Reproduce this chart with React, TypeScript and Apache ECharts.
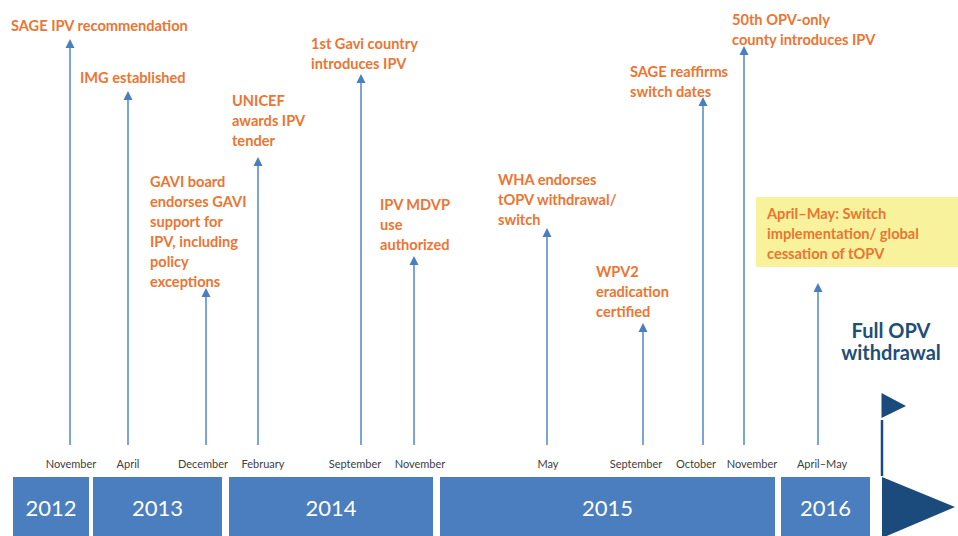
import React, { useEffect, useRef } from "react";
import * as echarts from "echarts";

// ---- Data ----
const years = ["2012", "2013", "2014", "2015", "2016"];
const yearStart = [13, 93, 229, 440, 781];
const yearEnd = [89, 222, 433, 775, 870];

const eventMonths = [
  "November", "April", "December", "February", "September", "November",
  "May", "September", "October", "November", "April–May",
];
const eventPos = [70, 128, 206, 258, 361, 414, 547, 643, 703, 744, 818];
const arrowTip = [39, 91, 288, 157, 74, 256, 228, 323, 97, 46, 283];
const eventLabels = [
  "SAGE IPV recommendation",
  "IMG established",
  "GAVI board\nendorses GAVI\nsupport for\nIPV, including\npolicy\nexceptions",
  "UNICEF\nawards IPV\ntender",
  "1st Gavi country\nintroduces IPV",
  "IPV MDVP\nuse\nauthorized",
  "WHA endorses\ntOPV withdrawal/\nswitch",
  "WPV2\neradication\ncertified",
  "SAGE reaffirms\nswitch dates",
  "50th OPV-only\ncounty introduces IPV",
  "April–May: Switch\nimplementation/ global\ncessation of tOPV",
];
const eventHighlight = [false, false, false, false, false, false, false, false, false, false, true];
const milestoneLabel = "Full OPV\nwithdrawal";

// ---- Layout (not data) ----
const labelX = [11, 80, 150, 232, 311, 380, 498, 596, 630, 732, 767];
const labelY = [25, 77, 181, 100, 43, 204, 179, 271, 71, 19, 213];
const monthLabelOffset = [1, 0, -3, 5, -6, 6, 1, -7, -7, 8, 4];
const ARROW_BASE = 445;
const MONTH_Y = 463;
const BAR_TOP = 477;
const BAR_BOTTOM = 536;
const MILESTONE_X = 882;

const FONT = "Lato, 'Open Sans', sans-serif";
const ORANGE = "#EB7532";
const BAR_BLUE = "#4A7EBE";
const ARROW_BLUE = "#5A8ECF";
const DARK = "#1B4A7C";

export default function App() {
  const ref = useRef<HTMLDivElement>(null);

  useEffect(() => {
    document.body.style.margin = "0";
    const chart = echarts.init(ref.current!, null, { renderer: "svg" });

    const option: any = {
      animation: false,
      backgroundColor: "#ffffff",
      grid: { left: 0, right: 0, top: 0, bottom: 0 },
      xAxis: { type: "value", min: 0, max: 958, show: false },
      yAxis: { type: "value", min: 0, max: 536, inverse: true, show: false },
      series: [
        // Year bars
        {
          type: "custom",
          clip: false,
          silent: true,
          data: years.map((_, i) => [yearStart[i], yearEnd[i]]),
          renderItem: (params: any, api: any) => {
            const i = params.dataIndex;
            const a = api.coord([api.value(0), BAR_TOP]);
            const b = api.coord([api.value(1), BAR_BOTTOM]);
            return {
              type: "group",
              children: [
                {
                  type: "rect",
                  shape: { x: a[0], y: a[1], width: b[0] - a[0], height: b[1] - a[1] },
                  style: { fill: BAR_BLUE },
                },
                {
                  type: "text",
                  x: (a[0] + b[0]) / 2,
                  y: (a[1] + b[1]) / 2 + 1,
                  style: {
                    text: years[i],
                    fill: "#ffffff",
                    font: `22px ${FONT}`,
                    align: "center",
                    verticalAlign: "middle",
                  },
                },
              ],
            };
          },
        },
        // Arrows + month labels
        {
          type: "custom",
          clip: false,
          silent: true,
          data: eventPos.map((p, i) => [p, arrowTip[i]]),
          renderItem: (params: any, api: any) => {
            const i = params.dataIndex;
            const base = api.coord([api.value(0), ARROW_BASE]);
            const tip = api.coord([api.value(0), api.value(1)]);
            const head = 9;
            return {
              type: "group",
              children: [
                {
                  type: "line",
                  shape: { x1: base[0], y1: base[1], x2: tip[0], y2: tip[1] + head - 1 },
                  style: { stroke: ARROW_BLUE, lineWidth: 1.6 },
                },
                {
                  type: "polygon",
                  shape: {
                    points: [
                      [tip[0], tip[1]],
                      [tip[0] - 4.5, tip[1] + head],
                      [tip[0] + 4.5, tip[1] + head],
                    ],
                  },
                  style: { fill: "#4A7EBE" },
                },
                {
                  type: "text",
                  x: base[0] + monthLabelOffset[i],
                  y: MONTH_Y,
                  style: {
                    text: eventMonths[i],
                    fill: "#404040",
                    font: `11px ${FONT}`,
                    align: "center",
                    verticalAlign: "middle",
                  },
                },
              ],
            };
          },
        },
        // Event labels
        {
          type: "custom",
          clip: false,
          silent: true,
          data: eventPos.map((p, i) => [labelX[i], labelY[i]]),
          renderItem: (params: any, api: any) => {
            const i = params.dataIndex;
            const pt = api.coord([api.value(0), api.value(1)]);
            const children: any[] = [];
            if (eventHighlight[i]) {
              children.push({
                type: "rect",
                shape: { x: pt[0] - 11, y: pt[1] - 16, width: 958 - (pt[0] - 11), height: 70 },
                style: { fill: "#F7F29B" },
              });
            }
            children.push({
              type: "text",
              x: pt[0],
              y: pt[1] - 10,
              style: {
                text: eventLabels[i],
                fill: ORANGE,
                font: `bold 14.6px ${FONT}`,
                lineHeight: 20,
                align: "left",
                verticalAlign: "top",
              },
            });
            return { type: "group", children };
          },
        },
        // Milestone flag + arrow
        {
          type: "custom",
          clip: false,
          silent: true,
          data: [[MILESTONE_X]],
          renderItem: (params: any, api: any) => {
            const x = api.coord([api.value(0), 0])[0];
            const y = (v: number) => api.coord([0, v])[1];
            return {
              type: "group",
              children: [
                {
                  type: "polygon",
                  shape: { points: [[x, y(BAR_TOP)], [x + 73, y(507)], [x, y(538)]] },
                  style: { fill: DARK },
                },
                {
                  type: "line",
                  shape: { x1: x, y1: y(420), x2: x, y2: y(476) },
                  style: { stroke: DARK, lineWidth: 2.5 },
                },
                {
                  type: "polygon",
                  shape: { points: [[x - 0.5, y(393)], [x + 24, y(406)], [x - 0.5, y(418)]] },
                  style: { fill: DARK },
                },
                {
                  type: "text",
                  x: x + 9,
                  y: y(341),
                  style: {
                    text: milestoneLabel,
                    fill: "#1F4E79",
                    font: `bold 20px ${FONT}`,
                    lineHeight: 22,
                    align: "center",
                    verticalAlign: "middle",
                  },
                },
              ],
            };
          },
        },
      ],
    };

    chart.setOption(option);
    return () => chart.dispose();
  }, []);

  return <div ref={ref} style={{ position: "absolute", left: 0, top: 0, width: 958, height: 536 }} />;
}
